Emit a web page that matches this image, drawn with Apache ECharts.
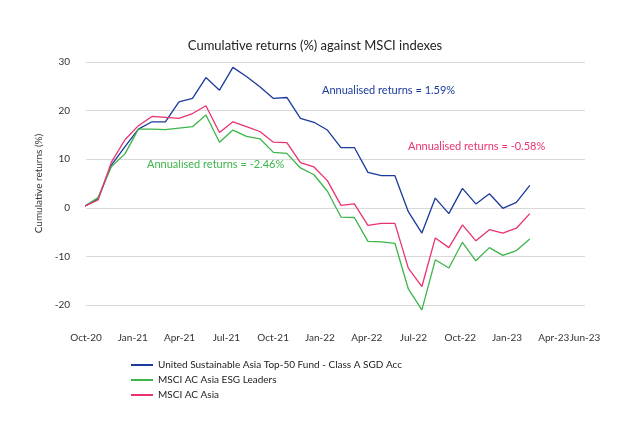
<!DOCTYPE html>
<html>
<head>
<meta charset="utf-8">
<script src="https://cdn.jsdelivr.net/npm/echarts@6/dist/echarts.min.js"></script>
<style>html,body{margin:0;padding:0;background:#fff}#chart{width:630px;height:436px}</style>
</head>
<body>
<div id="chart"></div>
<script>
// x position of each point, in months after Oct-20
var monthPos = [-0.1, 0.77, 1.63, 2.5, 3.36, 4.23, 5.09, 5.96, 6.83, 7.69, 8.56, 9.42, 10.29, 11.15, 12.02, 12.88, 13.75,
    14.62, 15.48, 16.35, 17.21, 18.08, 18.94, 19.81, 20.67, 21.54, 22.4, 23.27, 24.14, 25, 25.87, 26.73, 27.6, 28.46];
var fund = [0.3, 1.8, 8.8, 12.6, 16.2, 17.7, 17.7, 21.8, 22.5, 26.8, 24.2, 28.9, 27.0, 24.9, 22.5, 22.7, 18.4,
    17.6, 16.0, 12.4, 12.4, 7.3, 6.6, 6.6, -0.8, -5.2, 2.0, -1.2, 4.0, 0.8, 2.9, -0.1, 1.1, 4.6];
var esgLeaders = [0.3, 2.1, 8.5, 11.1, 16.2, 16.2, 16.1, 16.4, 16.7, 19.1, 13.5, 16.0, 14.7, 14.2, 11.4, 11.2, 8.2,
    6.8, 3.4, -1.9, -2.0, -6.9, -7.0, -7.3, -16.7, -21.0, -10.7, -12.4, -7.1, -10.9, -8.2, -9.8, -8.8, -6.4];
var acAsia = [0.3, 1.6, 9.4, 14.0, 16.9, 18.8, 18.6, 18.4, 19.4, 21.0, 15.5, 17.7, 16.7, 15.7, 13.5, 13.4, 9.3,
    8.4, 5.6, 0.5, 0.8, -3.6, -3.2, -3.2, -12.4, -16.2, -6.2, -8.2, -3.5, -6.8, -4.5, -5.2, -4.2, -1.2];
var tickLabels = {0: 'Oct-20', 3: 'Jan-21', 6: 'Apr-21', 9: 'Jul-21', 12: 'Oct-21', 15: 'Jan-22', 18: 'Apr-22',
    21: 'Jul-22', 24: 'Oct-22', 27: 'Jan-23', 30: 'Apr-23', 32: 'Jun-23'};
var names = ['United Sustainable Asia Top-50 Fund - Class A SGD Acc', 'MSCI AC Asia ESG Leaders', 'MSCI AC Asia'];

function pairs(vals) {
    return vals.map(function (v, i) { return [monthPos[i], v]; });
}

var chart = echarts.init(document.getElementById('chart'));
var font = 'Lato, "Noto Sans", sans-serif';
chart.setOption({
    animation: false,
    title: {
        text: 'Cumulative returns (%) against MSCI indexes',
        left: 'center', top: 34,
        textStyle: {fontFamily: font, fontSize: 13, fontWeight: 'normal', color: '#222'}
    },
    grid: {left: 86, right: 45, top: 62, bottom: 131},
    xAxis: {
        type: 'value', min: 0, max: 32, interval: 1,
        splitLine: {show: false}, axisLine: {show: false}, axisTick: {show: false},
        axisLabel: {
            margin: 28, fontFamily: font, fontSize: 10, color: '#333',
            formatter: function (v) { return tickLabels[v] || ''; }
        }
    },
    yAxis: {
        type: 'value', min: -20, max: 30, interval: 10,
        name: 'Cumulative returns (%)', nameLocation: 'middle', nameGap: 36,
        nameTextStyle: {fontFamily: font, fontSize: 10, color: '#333'},
        axisLine: {show: false}, axisTick: {show: false},
        axisLabel: {fontFamily: font, fontSize: 10, color: '#333', margin: 16},
        splitLine: {lineStyle: {color: '#d9d9d9', width: 1}}
    },
    legend: {
        orient: 'vertical', left: 126, top: 355, itemGap: 5,
        itemWidth: 22, itemHeight: 2, icon: 'rect',
        textStyle: {fontFamily: font, fontSize: 10, color: '#222'},
        data: names
    },
    series: [
        {name: names[0], type: 'line', data: pairs(fund), symbol: 'none', clip: false, lineStyle: {width: 1.3}, color: '#1a3a9c', z: 3},
        {name: names[1], type: 'line', data: pairs(esgLeaders), symbol: 'none', clip: false, lineStyle: {width: 1.3}, color: '#3cb54a'},
        {name: names[2], type: 'line', data: pairs(acAsia), symbol: 'none', clip: false, lineStyle: {width: 1.3}, color: '#e8336e'}
    ],
    graphic: [
        {type: 'text', left: 322, top: 85, style: {text: 'Annualised returns = 1.59%', fill: '#1a3a9c', font: '11px ' + font}},
        {type: 'text', left: 408, top: 141, style: {text: 'Annualised returns = -0.58%', fill: '#e8336e', font: '11px ' + font}},
        {type: 'text', left: 147, top: 159, style: {text: 'Annualised returns = -2.46%', fill: '#3cb54a', font: '11px ' + font}}
    ]
});
</script>
</body>
</html>
